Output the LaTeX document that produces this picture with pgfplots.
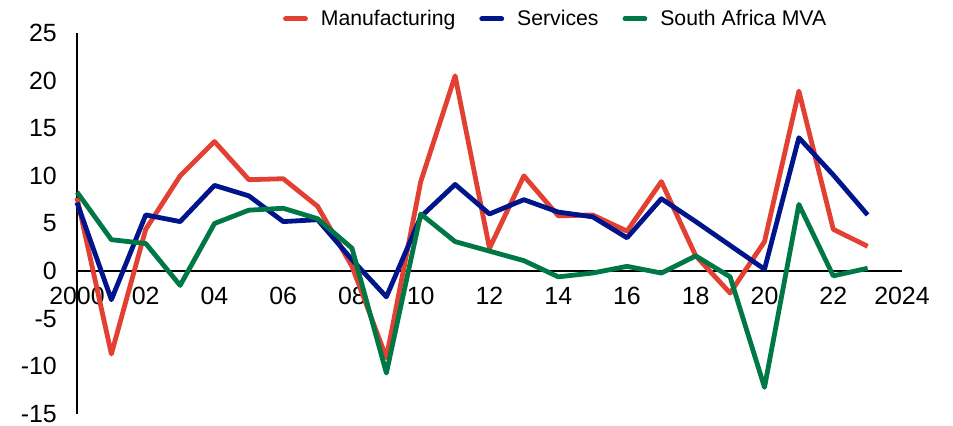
\documentclass[border=0pt]{standalone}
\usepackage{fontspec}
\setmainfont{Liberation Sans}
\usepackage{pgfplots}
\pgfplotsset{compat=1.18}
\definecolor{mred}{RGB}{225,64,50}
\definecolor{mblue}{RGB}{0,20,140}
\definecolor{mgreen}{RGB}{0,120,70}
\begin{document}
\begin{tikzpicture}
\begin{axis}[name=ax, scale only axis, width=825bp, height=381bp,
  xmin=2000, xmax=2024, ymin=-15, ymax=25, clip=false,
  axis x line=middle, axis y line=left,
  hide obscured x ticks=false, hide obscured y ticks=false,
  x axis line style={-, black, line width=1.3bp},
  y axis line style={-, black, line width=1.8bp},
  major tick length=0pt,
  xtick={2000,2002,...,2024},
  xticklabels={2000,02,04,06,08,10,12,14,16,18,20,22,2024},
  ytick={-15,-10,-5,0,5,10,15,20,25},
  yticklabels={-15,-10,-5,0,5,10,15,20,25},
  tick label style={font=\fontsize{25}{29}\selectfont},
  xticklabel style={anchor=north, inner sep=0pt, yshift=-16bp},
  yticklabel style={anchor=east, inner sep=0pt, xshift=-20bp},
  legend columns=3,
  legend style={at={(0.579,1.037)}, anchor=center, draw=none, fill=none,
    font=\fontsize{21.3}{25}\selectfont, inner sep=0pt,
    nodes={inner sep=0pt},
    /tikz/every odd column/.append style={column sep=13bp},
    /tikz/every even column/.append style={column sep=24bp}},
  legend image code/.code={\draw[#1, line cap=round] (0bp,0bp) -- (20bp,0bp);},
]
\addplot[mred, line width=4.8bp, line join=round] coordinates {
(2000,7.7) (2001,-8.7) (2002,4.4) (2003,10.0) (2004,13.6) (2005,9.6) (2006,9.7)
(2007,6.8) (2008,0.5) (2009,-9.1) (2010,9.4) (2011,20.5) (2012,2.4) (2013,10.0)
(2014,5.8) (2015,5.9) (2016,4.2) (2017,9.4) (2018,1.6) (2019,-2.3) (2020,3.1)
(2021,18.9) (2022,4.4) (2023,2.6)};
\addlegendentry{Manufacturing}
\addplot[mblue, line width=4.8bp, line join=round] coordinates {
(2000,7.2) (2001,-3.0) (2002,5.9) (2003,5.2) (2004,9.0) (2005,7.9) (2006,5.2)
(2007,5.4) (2008,1.2) (2009,-2.7) (2010,5.7) (2011,9.1) (2012,6.0) (2013,7.5)
(2014,6.2) (2015,5.7) (2016,3.5) (2017,7.6) (2018,5.2) (2019,2.7) (2020,0.2)
(2021,14.0) (2022,10.1) (2023,5.9)};
\addlegendentry{Services}
\addplot[mgreen, line width=4.8bp, line join=round] coordinates {
(2000,8.3) (2001,3.3) (2002,2.9) (2003,-1.5) (2004,5.0) (2005,6.4) (2006,6.6)
(2007,5.5) (2008,2.4) (2009,-10.7) (2010,6.0) (2011,3.1) (2012,2.1) (2013,1.1)
(2014,-0.6) (2015,-0.2) (2016,0.5) (2017,-0.2) (2018,1.6) (2019,-0.6) (2020,-12.2)
(2021,7.0) (2022,-0.5) (2023,0.3)};
\addlegendentry{South Africa MVA}
\end{axis}
\pgfresetboundingbox
\path ([shift={(-77bp,-12bp)}]ax.south west) rectangle ([shift={(51bp,33bp)}]ax.north east);
\end{tikzpicture}
\end{document}
